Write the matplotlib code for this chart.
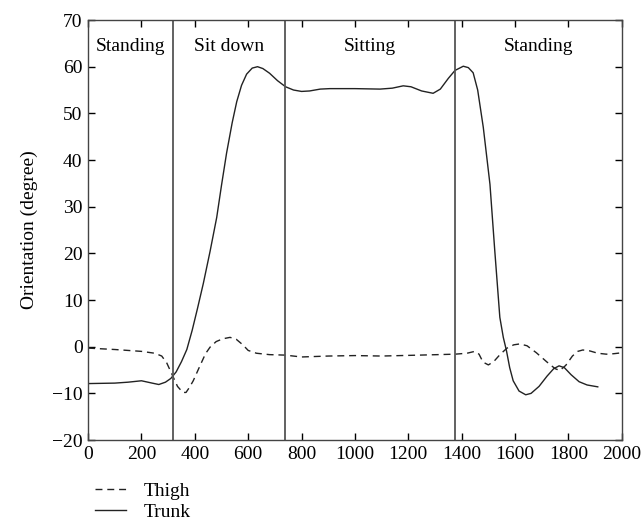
import numpy as np
import matplotlib
matplotlib.use('Agg')
import matplotlib.pyplot as plt

# trunk orientation (solid)
trunk_x = [0, 100, 150, 200, 240, 265, 290, 310, 330, 350, 370, 390, 410, 432, 457,
           482, 500, 519, 540, 557, 575, 594, 615, 635, 655, 680, 710, 740, 770, 800,
           830, 870, 906, 1000, 1094, 1140, 1181, 1210, 1250, 1293, 1320, 1350, 1375,
           1406, 1425, 1443, 1460, 1481, 1506, 1524, 1543, 1556, 1568, 1580, 1593,
           1615, 1640, 1660, 1690, 1720, 1745, 1765, 1785, 1810, 1840, 1870, 1910]
trunk_y = [-7.9, -7.8, -7.6, -7.3, -7.8, -8.1, -7.6, -6.8, -5.4, -3.2, -0.6, 3.5, 8.2,
           13.6, 20.4, 27.7, 34.6, 41.5, 48, 52.5, 56, 58.4, 59.7, 60, 59.6, 58.6, 57,
           55.7, 55, 54.7, 54.8, 55.2, 55.3, 55.3, 55.2, 55.4, 55.9, 55.7, 54.8, 54.3,
           55.2, 57.5, 59.2, 60.1, 59.8, 58.7, 55, 47, 34.8, 20.6, 6.3, 2.0, -0.9,
           -4.5, -7.3, -9.5, -10.3, -10.0, -8.5, -6.3, -4.7, -4.1, -4.5, -6, -7.5,
           -8.2, -8.6]

# thigh orientation (dashed)
thigh_x = [0, 100, 200, 250, 276, 295, 315, 335, 355, 367, 380, 394, 420, 440, 457,
           480, 505, 532, 555, 580, 600, 631, 680, 738, 800, 900, 1000, 1100, 1243,
           1375, 1420, 1449, 1465, 1480, 1500, 1520, 1545, 1570, 1595, 1618, 1645,
           1680, 1720, 1750, 1768, 1790, 1815, 1835, 1854, 1880, 1910, 1942, 1970, 2000]
thigh_y = [-0.3, -0.6, -1.0, -1.4, -2.0, -3.5, -6, -8.5, -9.8, -9.8, -8.7, -7.3, -4,
           -1.5, -0.1, 1.1, 1.7, 2.0, 1.6, 0.4, -0.8, -1.4, -1.7, -1.8, -2.2, -2.0,
           -1.9, -2.0, -1.8, -1.6, -1.4, -1.0, -1.6, -3.3, -3.9, -3.2, -1.6, -0.3, 0.4,
           0.6, 0.2, -1.3, -3.3, -4.7, -5.1, -4.0, -2.0, -1.0, -0.7, -0.9, -1.4, -1.6,
           -1.5, -1.3]

bounds = [320, 738, 1376]
phases = ['Standing', 'Sit down', 'Sitting', 'Standing']

plt.rcParams['font.family'] = ['Liberation Serif', 'DejaVu Serif']
plt.rcParams['font.size'] = 14

fig = plt.figure(figsize=(6.43, 5.27), dpi=100)
ax = fig.add_axes([0.137, 0.165, 0.830, 0.797])

l1, = ax.plot(thigh_x, thigh_y, color='#222222', lw=1.0, ls=(0, (5, 3.5)), label='Thigh')
l2, = ax.plot(trunk_x, trunk_y, color='#222222', lw=1.0, label='Trunk')

for b in bounds:
    ax.axvline(b, color='#555555', lw=1.3)

edges = [0] + bounds + [2000]
for i, p in enumerate(phases):
    ax.text((edges[i] + edges[i + 1]) / 2, 64.3, p, ha='center', va='center')

ax.set_xlim(0, 2000)
ax.set_ylim(-20, 70)
ax.set_xticks(np.arange(0, 2001, 200))
ax.set_yticks(np.arange(-20, 71, 10))
ax.set_yticklabels(['\u221220', '\u221210'] + [str(v) for v in range(0, 71, 10)])
ax.tick_params(direction='in', top=True, right=True, length=5, width=1, pad=4)
for s in ax.spines.values():
    s.set_color('#444444')
    s.set_linewidth(1.0)
ax.set_ylabel('Orientation (degree)', labelpad=10)

fig.legend(handles=[l1, l2], loc='upper left', bbox_to_anchor=(0.135, 0.10),
           frameon=False, handlelength=1.6, labelspacing=0.2, borderaxespad=0,
           handletextpad=0.9)

fig.savefig('out.png', dpi=100)
